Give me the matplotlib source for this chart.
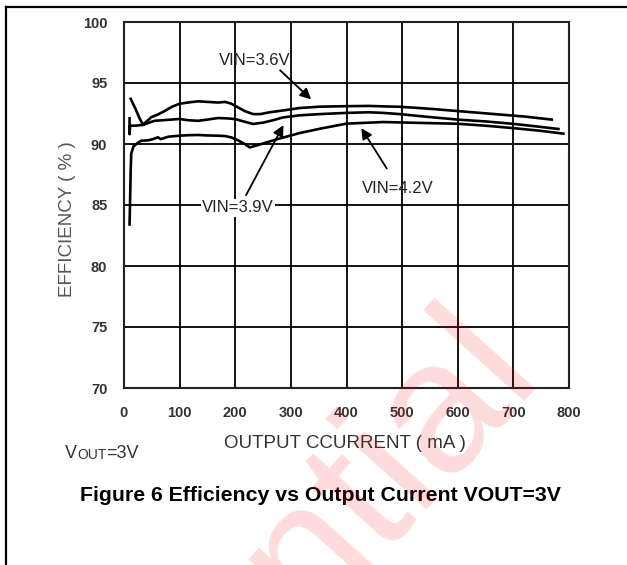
import numpy as np
import matplotlib.pyplot as plt
from matplotlib.lines import Line2D

plt.rcParams['font.family'] = ['Liberation Sans', 'DejaVu Sans']

# Data (output current in mA, efficiency in %)
i_36 = [12, 20, 28, 34, 42, 49, 60, 73, 86, 100, 115, 133, 150, 169, 182, 193, 205, 217,
        232, 245, 262, 286, 316, 352, 400, 440, 470, 496, 530, 560, 600, 640, 680, 720, 769]
eff_36 = [93.7, 92.95, 92.1, 91.6, 91.9, 92.2, 92.4, 92.7, 93.05, 93.3, 93.4, 93.5, 93.45,
          93.4, 93.45, 93.3, 93.0, 92.7, 92.45, 92.45, 92.6, 92.75, 92.95, 93.06, 93.1, 93.12,
          93.08, 93.05, 92.95, 92.85, 92.7, 92.55, 92.4, 92.25, 92.0]

i_39 = [10, 10, 11, 20, 34, 45, 55, 70, 85, 100, 115, 133, 150, 169, 185, 199, 215, 232,
        250, 268, 286, 316, 352, 400, 440, 466, 496, 540, 600, 650, 700, 740, 781]
eff_39 = [92.1, 90.8, 91.5, 91.5, 91.56, 91.75, 91.9, 91.95, 92.0, 92.05, 91.95, 91.9, 92.0,
          92.13, 92.1, 92.05, 91.85, 91.64, 91.75, 91.95, 92.18, 92.35, 92.45, 92.55, 92.6,
          92.55, 92.45, 92.25, 92.0, 91.85, 91.65, 91.45, 91.23]

i_42 = [10, 11, 12, 13, 17, 25, 31, 43, 52, 61, 66, 80, 100, 115, 133, 150, 169, 182, 193,
        205, 217, 226, 240, 256, 280, 316, 352, 400, 466, 514, 560, 600, 650, 700, 745, 790]
eff_42 = [83.4, 85.5, 87.8, 89.2, 89.8, 90.1, 90.27, 90.3, 90.4, 90.55, 90.4, 90.6, 90.68,
          90.72, 90.74, 90.7, 90.68, 90.65, 90.54, 90.3, 90.0, 89.72, 89.9, 90.13, 90.45,
          90.9, 91.25, 91.67, 91.8, 91.75, 91.7, 91.66, 91.5, 91.3, 91.1, 90.85]

x_ticks = [0, 100, 200, 300, 400, 500, 600, 700, 800]
y_ticks = [70, 75, 80, 85, 90, 95, 100]

fig = plt.figure(figsize=(6.27, 5.65), dpi=100)
ax = fig.add_axes([124 / 627, 1 - 388 / 565, 445 / 627, 366 / 565])

for xs, ys in [(i_36, eff_36), (i_39, eff_39), (i_42, eff_42)]:
    ax.plot(xs, ys, color='black', lw=1.9, solid_joinstyle='round', zorder=3)

ax.set_xlim(0, 800)
ax.set_ylim(70, 100)
ax.set_xticks(x_ticks)
ax.set_yticks(y_ticks)
ax.grid(True, color='black', lw=1.3)
ax.tick_params(length=0, labelsize=10.5, labelcolor='#333333')
ax.tick_params(axis='x', pad=13)
ax.tick_params(axis='y', pad=12)
for lab in ax.get_xticklabels() + ax.get_yticklabels():
    lab.set_fontweight('bold')
for sp in ax.spines.values():
    sp.set_linewidth(1.5)
    sp.set_color('#222222')

ax.text(-0.126, 0.462, 'EFFICIENCY ( % )', transform=ax.transAxes, rotation=90,
        ha='center', va='center', fontsize=13.5, color='#555555')
ax.text(0.496, -0.164, 'OUTPUT CCURRENT ( mA )', transform=ax.transAxes,
        ha='center', va='baseline', fontsize=13.5, color='#333333')

# curve labels and arrows
ax.text(235, 96.85, 'VIN=3.6V', ha='center', va='center', fontsize=12, color='#222222')
ax.annotate('', xy=(340, 93.5), xytext=(277, 96.2),
            arrowprops=dict(arrowstyle='-|>', color='black', lw=1.3, mutation_scale=16))
ax.text(205, 84.78, 'VIN=3.9V', ha='center', va='center', fontsize=12, color='#222222',
        bbox=dict(facecolor='white', edgecolor='none', pad=1), zorder=4)
ax.annotate('', xy=(289, 91.75), xytext=(217, 85.6),
            arrowprops=dict(arrowstyle='-|>', color='black', lw=1.3, mutation_scale=16))
ax.text(492, 86.34, 'VIN=4.2V', ha='center', va='center', fontsize=12, color='#222222')
ax.annotate('', xy=(424, 91.5), xytext=(475, 87.8),
            arrowprops=dict(arrowstyle='-|>', color='black', lw=1.3, mutation_scale=16))

# VOUT=3V with small caps
t1 = fig.text(65 / 627, 1 - 458 / 565, 'V', fontsize=13, color='#333333', va='baseline')
t2 = ax.annotate('OUT', xy=(1, 0), xycoords=t1, va='bottom', ha='left',
                 fontsize=10, color='#333333')
ax.annotate('=3V', xy=(1, 0), xycoords=t2, va='bottom', ha='left',
            fontsize=13, color='#333333')

fig.text(320.5 / 627, 1 - 501 / 565, 'Figure 6 Efficiency vs Output Current VOUT=3V',
         ha='center', va='baseline', fontsize=15.3, fontweight='bold', color='black')

# page border
fig.add_artist(Line2D([6 / 627, 6 / 627], [0, 1 - 7 / 565], color='black', lw=1.6,
                      transform=fig.transFigure))
fig.add_artist(Line2D([6 / 627, 1], [1 - 7 / 565, 1 - 7 / 565], color='black', lw=1.6,
                      transform=fig.transFigure))

# watermark
fig.text(542 / 627, 1 - 372 / 565, 'Confidential', fontsize=135, color='red', alpha=0.14,
         rotation=48, rotation_mode='anchor', ha='right', va='baseline', zorder=10)

fig.savefig('out.png', dpi=100)
